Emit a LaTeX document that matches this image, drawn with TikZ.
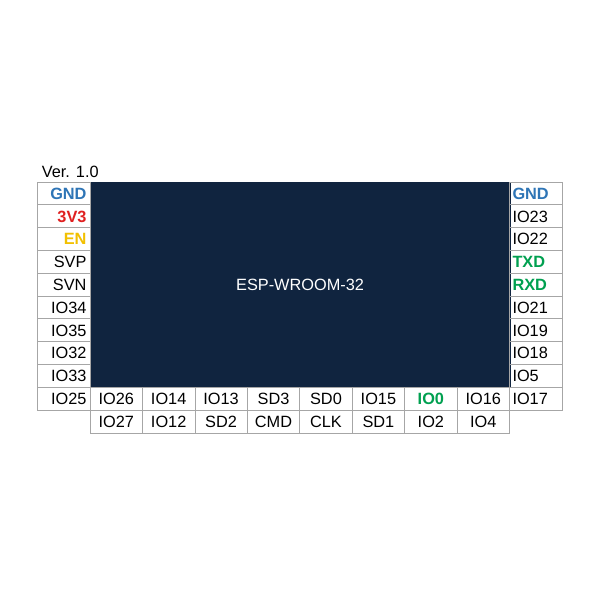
\documentclass[tikz,border=0pt]{standalone}
\usepackage{fontspec}
\setmainfont{Liberation Sans}
\definecolor{chipc}{HTML}{10243F}
\definecolor{gridc}{HTML}{A6A6A6}
\definecolor{gndblue}{HTML}{2E75B6}
\definecolor{pwrred}{HTML}{E02020}
\definecolor{enyel}{HTML}{F2C000}
\definecolor{siggreen}{HTML}{00A050}
\begin{document}
\begin{tikzpicture}[x=0.025cm,y=-0.025cm,
  font=\fontsize{11.6}{13}\selectfont,
  cell/.style={draw=gridc, line width=0.5pt, minimum height=22.8*0.025cm,
    text height=8.3pt, text depth=0pt, inner ysep=0pt, outer sep=0pt, anchor=north west},
  lcell/.style={cell, inner xsep=3.5*0.025cm, text width=45.7*0.025cm, align=right},
  rcell/.style={cell, inner xsep=3*0.025cm, text width=46.5*0.025cm, align=left},
  bcell/.style={cell, inner xsep=0pt, minimum width=52.44*0.025cm, align=center},
  normalpin/.style={text=black},
  gndpin/.style={text=gndblue, font=\fontsize{11.6}{13}\selectfont\bfseries},
  pwrpin/.style={text=pwrred, font=\fontsize{11.6}{13}\selectfont\bfseries},
  enpin/.style={text=enyel, font=\fontsize{11.6}{13}\selectfont\bfseries},
  sigpin/.style={text=siggreen, font=\fontsize{11.6}{13}\selectfont\bfseries}]
\useasboundingbox[fill=white] (0,0) rectangle (600,600);
\node[anchor=base west, inner sep=0pt] (ver) at (41.5,177.3) {Ver. 1.0};
\node[fill=chipc, draw=chipc, anchor=north west, minimum width=419.5*0.025cm,
  minimum height=205.4*0.025cm, inner sep=0pt, text=white] (chip) at (90,182) {ESP-WROOM-32};
\foreach \t/\s [count=\i from 0] in {GND/gndpin,3V3/pwrpin,EN/enpin,SVP/normalpin,SVN/normalpin,IO34/normalpin,IO35/normalpin,IO32/normalpin,IO33/normalpin,IO25/normalpin}
  \node[lcell,\s] (L\i) at (37.3,182+22.8*\i) {\t};
\foreach \t/\s [count=\i from 0] in {GND/gndpin,IO23/normalpin,IO22/normalpin,TXD/sigpin,RXD/sigpin,IO21/normalpin,IO19/normalpin,IO18/normalpin,IO5/normalpin,IO17/normalpin}
  \node[rcell,\s] (R\i) at (509.5,182+22.8*\i) {\t};
\foreach \t/\s [count=\i from 0] in {IO26/normalpin,IO14/normalpin,IO13/normalpin,SD3/normalpin,SD0/normalpin,IO15/normalpin,IO0/sigpin,IO16/normalpin}
  \node[bcell,\s] (B\i) at (90+52.44*\i,387.4) {\t};
\foreach \t [count=\i from 0] in {IO27,IO12,SD2,CMD,CLK,SD1,IO2,IO4}
  \node[bcell,normalpin] (C\i) at (90+52.44*\i,410.2) {\t};
\end{tikzpicture}
\end{document}
